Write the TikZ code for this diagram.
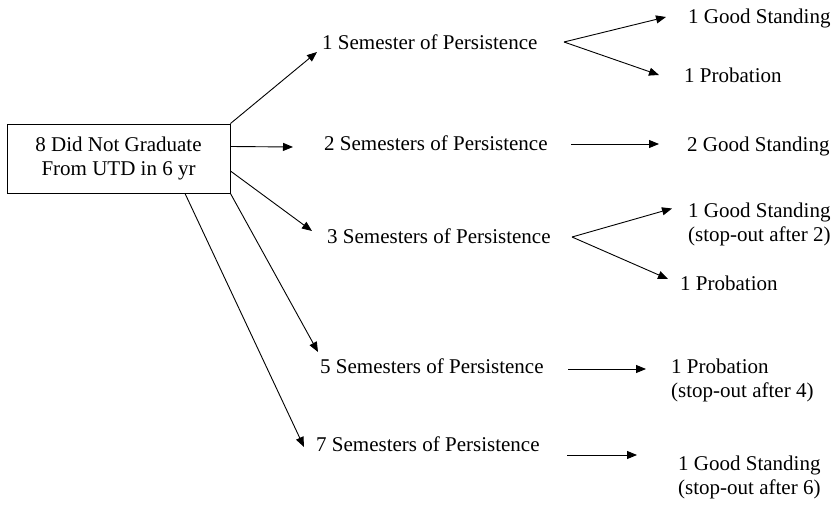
\documentclass[tikz,border=0pt]{standalone}
\usepackage{fontspec}
\setmainfont{Liberation Serif}
\usetikzlibrary{arrows.meta}
\begin{document}
\begin{tikzpicture}[x=1pt,y=-1pt,
  every node/.style={inner sep=0pt,font=\fontsize{21}{24}\selectfont},
  lbl/.style={anchor=base west},
  lbl2/.style={anchor=north west,align=left},
  arr/.style={-{Triangle[length=10pt,width=8pt]},line width=0.9pt},
  boxnode/.style={draw,line width=0.9pt,minimum width=223pt,minimum height=69pt,align=center}]
\useasboundingbox (0,0) rectangle (835,508);
% root
\node[boxnode] (box) at (118.5,158.5) {8 Did Not Graduate\\From UTD in 6 yr};
% middle column
\node[lbl] (s1) at (322,50) {1 Semester of Persistence};
\node[lbl] (s2) at (324,150) {2 Semesters of Persistence};
\node[lbl] (s3) at (327,243) {3 Semesters of Persistence};
\node[lbl] (s5) at (320,373) {5 Semesters of Persistence};
\node[lbl] (s7) at (316,451) {7 Semesters of Persistence};
% right column
\node[lbl] (g1) at (688,24) {1 Good Standing};
\node[lbl] (p1) at (684,83) {1 Probation};
\node[lbl] (g2) at (687,152) {2 Good Standing};
\node[lbl2] (g3) at (688,202.5) {1 Good Standing\\(stop-out after 2)};
\node[lbl] (p3) at (680,290) {1 Probation};
\node[lbl2] (p5) at (671,358.5) {1 Probation\\(stop-out after 4)};
\node[lbl2] (g7) at (678,455.5) {1 Good Standing\\(stop-out after 6)};
% branch points
\coordinate (v1) at (564,42);
\coordinate (v2) at (571,144);
\coordinate (v3) at (572,237);
\coordinate (v5) at (568,369);
\coordinate (v7) at (567,455);
% arrows from root
\draw[arr] (box.north east) -- ([shift={(-5,2)}]s1.base west);
\draw[arr] ([yshift=12pt]box.east) -- ([shift={(-31,-3)}]s2.base west);
\draw[arr] ([yshift=-12.5pt]box.east) -- ([shift={(-15,-12)}]s3.base west);
\draw[arr] (box.south east) -- ([shift={(-2,-21)}]s5.base west);
\draw[arr] ([xshift=66.5pt]box.south) -- ([shift={(-12,-4)}]s7.base west);
% arrows to outcomes
\draw[arr] (v1) -- ([shift={(-22,-7)}]g1.base west);
\draw[arr] (v1) -- ([shift={(-25,-8)}]p1.base west);
\draw[arr] (v2) -- ([shift={(-28,-8)}]g2.base west);
\draw[arr] (v3) -- ([shift={(-16,6)}]g3.north west);
\draw[arr] (v3) -- ([shift={(-12,-11)}]p3.base west);
\draw[arr] (v5) -- ([shift={(-25,10.5)}]p5.north west);
\draw[arr] (v7) -- ([shift={(-41,-0.5)}]g7.north west);
\end{tikzpicture}
\end{document}
